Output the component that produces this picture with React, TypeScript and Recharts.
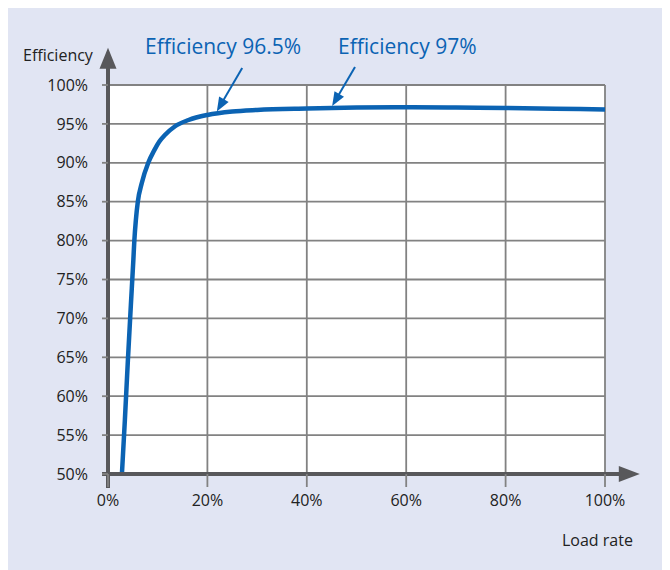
import React from 'react';
import { LineChart, Line, XAxis, YAxis, CartesianGrid, ReferenceLine } from 'recharts';

// values
const loadRate = [2.8, 3.4, 4.0, 4.6, 5.1, 5.3, 5.6, 6.0, 6.8, 8.1, 9.3, 10.3, 11.5, 13.5, 16.2, 20, 25, 30, 40, 50, 60, 70, 80, 90, 100];
const efficiency = [50, 57, 64.6, 71.7, 77.5, 80, 82.6, 85, 87.4, 90, 91.6, 92.7, 93.6, 94.7, 95.5, 96.15, 96.6, 96.8, 96.98, 97.1, 97.15, 97.1, 97.05, 96.95, 96.85];
const xTicks = [0, 20, 40, 60, 80, 100];
const yTicks = [50, 55, 60, 65, 70, 75, 80, 85, 90, 95, 100];

const data = loadRate.map((x, i) => ({ load: x, eff: efficiency[i] }));

const BLUE = '#0b63b3';
const AXIS = '#58585b';
const GRID = '#828282';
const FONT = '"Open Sans", sans-serif';

// line with a filled triangle at its end point
const arrowShape = (color: string, width: number, headLen: number, headHalf: number) => (props: any) => {
  const { x1, y1, x2, y2 } = props;
  const dx = x2 - x1;
  const dy = y2 - y1;
  const len = Math.sqrt(dx * dx + dy * dy) || 1;
  const ux = dx / len;
  const uy = dy / len;
  const bx = x2 - ux * headLen;
  const by = y2 - uy * headLen;
  const px = -uy * headHalf;
  const py = ux * headHalf;
  return (
    <g>
      <line x1={x1} y1={y1} x2={bx + ux} y2={by + uy} stroke={color} strokeWidth={width} />
      <polygon points={`${x2},${y2} ${bx + px},${by + py} ${bx - px},${by - py}`} fill={color} />
    </g>
  );
};

const App: React.FC = () => {
  return (
    <div style={{ position: 'relative', width: 663, height: 563, margin: '-1px 0 0 -1px', background: '#e1e5f3', fontFamily: FONT }}>
      <LineChart
        width={663}
        height={563}
        data={data}
        margin={{ top: 78, right: 65, bottom: 56, left: 41 }}
        style={{ position: 'absolute', left: 0, top: 0 }}
      >
        <CartesianGrid stroke={GRID} strokeWidth={1.8} fill="#ffffff" fillOpacity={1} />
        <XAxis
          dataKey="load"
          type="number"
          domain={[0, 100]}
          ticks={xTicks}
          axisLine={false}
          tickLine={{ stroke: GRID, strokeWidth: 1.8 }}
          tickSize={13}
          tickMargin={8}
          height={40}
          tickFormatter={(v) => `${v}%`}
          tick={{ fill: '#222', fontSize: 16, fontFamily: FONT }}
        />
        <YAxis
          type="number"
          domain={[50, 100]}
          ticks={yTicks}
          axisLine={false}
          tickLine={{ stroke: GRID, strokeWidth: 1.8 }}
          tickSize={6}
          tickMargin={14}
          width={60}
          tickFormatter={(v) => `${v}%`}
          tick={{ fill: '#222', fontSize: 16, fontFamily: FONT }}
          interval={0}
        />
        <Line type="monotone" dataKey="eff" stroke={BLUE} strokeWidth={4.5} dot={false} isAnimationActive={false} />
        <ReferenceLine
          segment={[{ x: -1.2, y: 50 }, { x: 107, y: 50 }]}
          ifOverflow="visible"
          shape={arrowShape(AXIS, 4, 21, 8)}
        />
        <ReferenceLine
          segment={[{ x: 0, y: 48.2 }, { x: 0, y: 104.8 }]}
          ifOverflow="visible"
          shape={arrowShape(AXIS, 4, 21, 8.5)}
        />
        <ReferenceLine
          segment={[{ x: 27, y: 102.2 }, { x: 21.9, y: 96.6 }]}
          ifOverflow="visible"
          shape={arrowShape(BLUE, 2, 14, 5.5)}
        />
        <ReferenceLine
          segment={[{ x: 49.7, y: 102.3 }, { x: 45.1, y: 97.3 }]}
          ifOverflow="visible"
          shape={arrowShape(BLUE, 2, 14, 5.5)}
        />
      </LineChart>
      <div style={{ position: 'absolute', left: 16, top: 38, fontSize: 16, color: '#222', lineHeight: '20px' }}>Efficiency</div>
      <div style={{ position: 'absolute', left: 555, top: 523, fontSize: 16, color: '#222', lineHeight: '20px' }}>Load rate</div>
      <div style={{ position: 'absolute', left: 138, top: 25, fontSize: 21, color: BLUE, lineHeight: '28px' }}>Efficiency 96.5%</div>
      <div style={{ position: 'absolute', left: 331, top: 25, fontSize: 21, color: BLUE, lineHeight: '28px' }}>Efficiency 97%</div>
    </div>
  );
};

export default App;
